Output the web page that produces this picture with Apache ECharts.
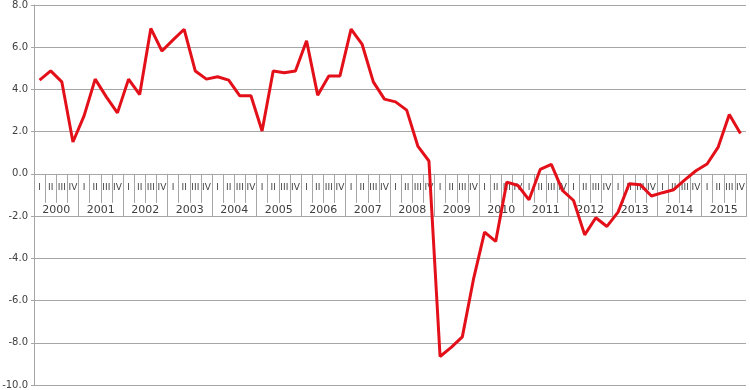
<!DOCTYPE html>
<html>
<head>
<meta charset="utf-8">
<script src="https://cdn.jsdelivr.net/npm/echarts@6/dist/echarts.min.js"></script>
<style>html,body{margin:0;padding:0;background:#fff}#c{width:750px;height:390px}</style>
</head>
<body>
<div id="c"></div>
<script>
var years = ['2000','2001','2002','2003','2004','2005','2006','2007','2008','2009','2010','2011','2012','2013','2014','2015'];
var quarterNames = ['I','II','III','IV'];
var values = [
  4.44, 4.88, 4.36, 1.51,
  2.75, 4.49, 3.65, 2.89,
  4.49, 3.76, 6.89, 5.82,
  6.35, 6.85, 4.87, 4.49,
  4.60, 4.44, 3.70, 3.70,
  2.03, 4.87, 4.79, 4.87,
  6.31, 3.73, 4.64, 4.64,
  6.86, 6.13, 4.36, 3.54,
  3.41, 3.02, 1.32, 0.61,
  -8.65, -8.22, -7.72, -5.00,
  -2.76, -3.20, -0.39, -0.55,
  -1.23, 0.21, 0.45, -0.78,
  -1.26, -2.89, -2.08, -2.49,
  -1.81, -0.47, -0.51, -1.05,
  -0.89, -0.75, -0.28, 0.15,
  0.47, 1.27, 2.81, 1.91
];
var yMin = -10, yMax = 8, yStep = 2;
var quarterLabels = [];
years.forEach(function(){ quarterNames.forEach(function(q){ quarterLabels.push(q); }); });

var W = 750, H = 390, gTop = 5, gBottom = 5, gLeft = 34, gRight = 4;
var plotH = H - gTop - gBottom;
var zeroY = gTop + (yMax / (yMax - yMin)) * plotH;

var grey = '#a6a6a6';
var font = 'DejaVu Sans, Verdana, sans-serif';
var chart = echarts.init(document.getElementById('c'));
chart.setOption({
  animation: false,
  grid: [
    { left: gLeft, right: gRight, top: gTop, bottom: gBottom, containLabel: false, outerBoundsMode: 'none' },
    { left: gLeft, right: gRight, top: gTop, bottom: H - zeroY, containLabel: false, outerBoundsMode: 'none' }
  ],
  xAxis: [
    {
      gridIndex: 0, type: 'category', data: quarterLabels, boundaryGap: true, show: false
    },
    {
      gridIndex: 1, type: 'category', position: 'bottom', data: quarterLabels, boundaryGap: true,
      axisLine: { show: true, onZero: false, lineStyle: { color: grey, width: 1 } },
      axisTick: { show: true, interval: 0, length: 29, lineStyle: { color: grey, width: 1 } },
      axisLabel: { interval: 0, fontSize: 9, margin: 9, color: '#404040', fontFamily: font, hideOverlap: false },
      splitLine: { show: false }
    },
    {
      gridIndex: 1, type: 'category', position: 'bottom', data: years, boundaryGap: true,
      axisLine: { show: false, onZero: false },
      axisTick: { show: true, interval: 0, length: 43, lineStyle: { color: grey, width: 1 } },
      axisLabel: { interval: 0, fontSize: 11, margin: 31, color: '#404040', fontFamily: font, hideOverlap: false },
      splitLine: { show: false }
    }
  ],
  yAxis: [
    {
      gridIndex: 0, type: 'value', min: yMin, max: yMax, interval: yStep,
      axisLine: { show: true, lineStyle: { color: grey, width: 1 } },
      axisTick: { show: true, length: 3, lineStyle: { color: grey } },
      axisLabel: { fontSize: 10, margin: 6, color: '#404040', fontFamily: font, hideOverlap: false,
        formatter: function(v){ return v.toFixed(1); } },
      splitLine: { show: true, lineStyle: { color: grey, width: 1 } }
    },
    { gridIndex: 1, type: 'value', show: false, min: 0, max: 1 }
  ],
  series: [{
    type: 'line', xAxisIndex: 0, yAxisIndex: 0, data: values, showSymbol: false, symbol: 'none',
    lineStyle: { color: '#e3101a', width: 3 }, z: 5
  }]
});
</script>
</body>
</html>
